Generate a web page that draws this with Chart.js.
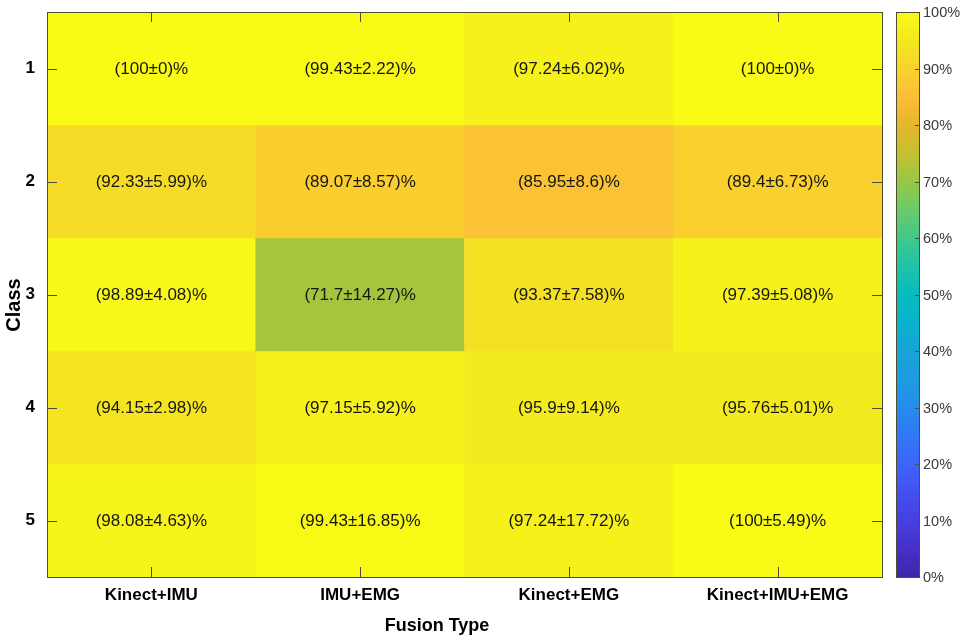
<!DOCTYPE html>
<html><head><meta charset="utf-8">
<script src="https://cdn.jsdelivr.net/npm/chart.js@4.4.0/dist/chart.umd.min.js"></script>
<style>html,body{margin:0;padding:0;background:#fff;} #wrap{width:966px;height:640px;position:relative}</style>
</head><body><div id="wrap"><canvas id="c" width="966" height="640"></canvas></div>
<script>
// ---- data ----
const fusionTypes = ['Kinect+IMU', 'IMU+EMG', 'Kinect+EMG', 'Kinect+IMU+EMG'];
const classes = ['1', '2', '3', '4', '5'];
const meanClass1 = [100, 99.43, 97.24, 100];
const meanClass2 = [92.33, 89.07, 85.95, 89.4];
const meanClass3 = [98.89, 71.7, 93.37, 97.39];
const meanClass4 = [94.15, 97.15, 95.9, 95.76];
const meanClass5 = [98.08, 99.43, 97.24, 100];
const sdClass1 = [0, 2.22, 6.02, 0];
const sdClass2 = [5.99, 8.57, 8.6, 6.73];
const sdClass3 = [4.08, 14.27, 7.58, 5.08];
const sdClass4 = [2.98, 5.92, 9.14, 5.01];
const sdClass5 = [4.63, 16.85, 17.72, 5.49];
const colorbarTicks = [0, 10, 20, 30, 40, 50, 60, 70, 80, 90, 100];
const xTitle = 'Fusion Type';
const yTitle = 'Class';

const means = [meanClass1, meanClass2, meanClass3, meanClass4, meanClass5];
const sds = [sdClass1, sdClass2, sdClass3, sdClass4, sdClass5];

// parula-like colormap (fraction -> rgb)
const cmap = [
  [0.00, [62, 38, 168]], [0.05, [70, 48, 200]], [0.10, [71, 63, 225]], [0.15, [68, 80, 240]],
  [0.20, [62, 100, 250]], [0.25, [48, 120, 245]], [0.30, [38, 140, 235]], [0.35, [30, 155, 225]],
  [0.40, [22, 165, 215]], [0.45, [10, 178, 205]], [0.50, [5, 188, 190]], [0.55, [30, 195, 170]],
  [0.60, [65, 200, 140]], [0.65, [105, 202, 105]], [0.70, [150, 200, 70]], [0.75, [198, 192, 48]],
  [0.80, [228, 182, 45]], [0.85, [251, 190, 55]], [0.90, [250, 210, 45]], [0.95, [243, 232, 32]],
  [1.00, [249, 251, 20]]
];
function parula(f) {
  f = Math.max(0, Math.min(1, f));
  for (let i = 1; i < cmap.length; i++) {
    if (f <= cmap[i][0]) {
      const [f0, c0] = cmap[i - 1], [f1, c1] = cmap[i];
      const t = (f - f0) / (f1 - f0);
      const c = c0.map((v, k) => Math.round(v + (c1[k] - v) * t));
      return `rgb(${c[0]},${c[1]},${c[2]})`;
    }
  }
  return 'rgb(249,251,20)';
}

const FONT = "'Liberation Sans', Arial, Helvetica, sans-serif";
const AXIS_COLOR = '#4e4e34';

const datasets = classes.map((cls, k) => ({
  label: 'Class ' + cls,
  data: means[k].map(() => [k + 0.5, k + 1.5]),
  backgroundColor: means[k].map(v => parula(v / 100)),
  borderWidth: 0,
  grouped: false,
  barPercentage: 1,
  categoryPercentage: 1
}));

const decorPlugin = {
  id: 'decor',
  afterDatasetsDraw(chart) {
    const ctx = chart.ctx;
    ctx.save();
    ctx.font = `17px ${FONT}`;
    ctx.fillStyle = '#161616';
    ctx.textAlign = 'center';
    ctx.textBaseline = 'middle';
    chart.data.datasets.forEach((ds, k) => {
      const meta = chart.getDatasetMeta(k);
      meta.data.forEach((el, j) => {
        const cy = (el.y + el.base) / 2;
        ctx.fillText(`(${means[k][j]}±${sds[k][j]})%`, el.x, cy + 1);
      });
    });
    ctx.restore();
  },
  afterDraw(chart) {
    const ctx = chart.ctx;
    const a = chart.chartArea;
    const xs = chart.scales.x, ys = chart.scales.y;
    ctx.save();
    // box
    ctx.strokeStyle = AXIS_COLOR;
    ctx.lineWidth = 1;
    ctx.strokeRect(Math.round(a.left) + 0.5, Math.round(a.top) + 0.5, Math.round(a.right - a.left), Math.round(a.bottom - a.top));
    // ticks
    ctx.beginPath();
    fusionTypes.forEach((_, i) => {
      const x = Math.round(xs.getPixelForTick(i)) + 0.5;
      ctx.moveTo(x, a.bottom); ctx.lineTo(x, a.bottom - 10);
      ctx.moveTo(x, a.top); ctx.lineTo(x, a.top + 10);
    });
    classes.forEach((_, k) => {
      const y = Math.round(ys.getPixelForValue(k + 1)) + 0.5;
      ctx.moveTo(a.left, y); ctx.lineTo(a.left + 10, y);
      ctx.moveTo(a.right, y); ctx.lineTo(a.right - 10, y);
    });
    ctx.stroke();

    // colorbar
    const cbL = 896, cbR = 919, cbT = a.top, cbB = a.bottom;
    const g = ctx.createLinearGradient(0, cbB, 0, cbT);
    cmap.forEach(([f]) => g.addColorStop(f, parula(f)));
    ctx.fillStyle = g;
    ctx.fillRect(cbL, cbT, cbR - cbL, cbB - cbT);
    ctx.strokeStyle = AXIS_COLOR;
    ctx.strokeRect(cbL + 0.5, Math.round(cbT) + 0.5, cbR - cbL, Math.round(cbB - cbT));
    ctx.beginPath();
    ctx.font = `14.5px ${FONT}`;
    ctx.fillStyle = '#3a3a3a';
    ctx.textAlign = 'left';
    ctx.textBaseline = 'middle';
    colorbarTicks.forEach(v => {
      const y = cbB - (v / 100) * (cbB - cbT);
      const yy = Math.round(y) + 0.5;
      if (v > 0 && v < 100) { ctx.moveTo(cbR, yy); ctx.lineTo(cbR - 4, yy); }
      ctx.fillText(v + '%', cbR + 4, y + 1);
    });
    ctx.stroke();

    // axis titles
    ctx.fillStyle = '#000';
    ctx.font = `bold 18px ${FONT}`;
    ctx.textAlign = 'center';
    ctx.textBaseline = 'middle';
    ctx.fillText(xTitle, 437, 626);
    ctx.translate(14, 305);
    ctx.rotate(-Math.PI / 2);
    ctx.font = `bold 20px ${FONT}`;
    ctx.fillText(yTitle, 0, 0);
    ctx.restore();
  }
};

new Chart(document.getElementById('c'), {
  type: 'bar',
  data: { labels: fusionTypes, datasets },
  options: {
    responsive: false,
    animation: false,
    devicePixelRatio: 1,
    layout: { padding: { top: 12, right: 84, left: 0, bottom: 0 } },
    plugins: { legend: { display: false }, tooltip: { enabled: false } },
    scales: {
      x: {
        type: 'category',
        grid: { display: false, drawTicks: false },
        border: { display: false },
        ticks: { color: '#000', font: { family: FONT, size: 17, weight: 'bold' }, padding: 8, maxRotation: 0 },
        afterFit: s => { s.height = 63; s.paddingLeft = 0; s.paddingRight = 0; }
      },
      y: {
        type: 'linear',
        reverse: true,
        min: 0.5,
        max: 5.5,
        grid: { display: false, drawTicks: false },
        border: { display: false },
        afterBuildTicks: s => { s.ticks = classes.map((c, k) => ({ value: k + 1 })); },
        ticks: {
          color: '#000', font: { family: FONT, size: 17, weight: 'bold' }, padding: 12,
          callback: v => classes[Math.round(v) - 1]
        },
        afterFit: s => { s.width = 47; s.paddingTop = 0; s.paddingBottom = 0; }
      }
    }
  },
  plugins: [decorPlugin]
});
</script>
</body></html>
